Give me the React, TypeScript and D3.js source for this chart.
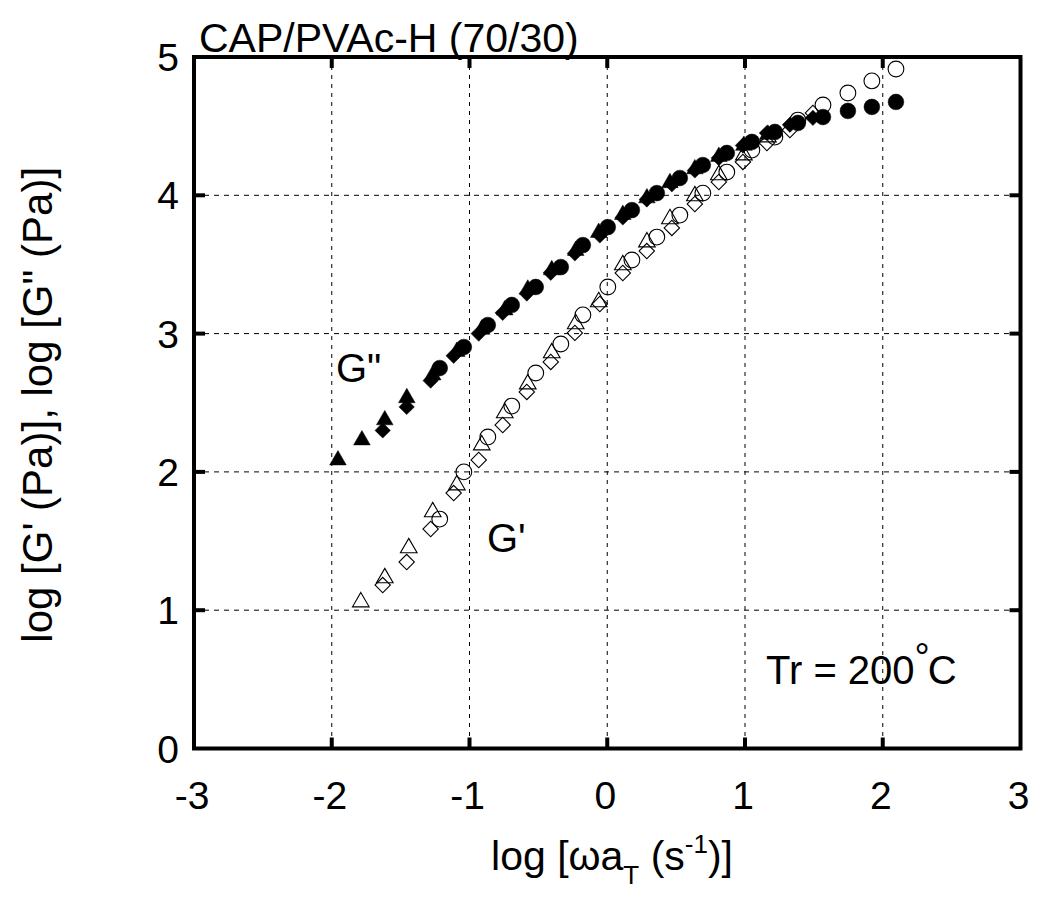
import React from "react";
import * as d3 from "d3";

// G'' (filled) series — log ωaT, log G''
const gppTriangles: [number, number][] = [
  [-1.955, 2.085], [-1.781, 2.23], [-1.615, 2.375], [-1.455, 2.535], [-1.267, 2.70],
  [-1.092, 2.87], [-0.911, 3.03], [-0.744, 3.17], [-0.577, 3.32], [-0.403, 3.46],
  [-0.229, 3.60], [-0.062, 3.73], [0.113, 3.86], [0.288, 3.98], [0.455, 4.09],
  [0.636, 4.19], [0.81, 4.28], [0.992, 4.36], [1.166, 4.44],
];
const gppDiamonds: [number, number][] = [
  [-1.63, 2.30], [-1.456, 2.47], [-1.282, 2.66], [-1.115, 2.84], [-0.933, 3.00],
  [-0.759, 3.15], [-0.584, 3.29], [-0.41, 3.44], [-0.235, 3.58], [-0.054, 3.71],
  [0.113, 3.84], [0.287, 3.97], [0.469, 4.08], [0.636, 4.18], [0.81, 4.27],
  [0.985, 4.36], [1.159, 4.45], [1.326, 4.51], [1.493, 4.56],
];
const gppCircles: [number, number][] = [
  [-1.216, 2.751], [-1.041, 2.903], [-0.867, 3.062], [-0.693, 3.207], [-0.519, 3.337],
  [-0.337, 3.481], [-0.177, 3.64], [0.004, 3.77], [0.179, 3.893], [0.36, 4.016],
  [0.527, 4.125], [0.694, 4.219], [0.868, 4.306], [1.05, 4.386], [1.217, 4.458],
  [1.384, 4.523], [1.566, 4.566], [1.747, 4.61], [1.921, 4.639], [2.096, 4.675],
];

// G' (open) series — log ωaT, log G'
const gpTriangles: [number, number][] = [
  [-1.789, 1.059], [-1.615, 1.233], [-1.441, 1.45], [-1.267, 1.71], [-1.092, 1.905],
  [-0.911, 2.194], [-0.744, 2.426], [-0.577, 2.635], [-0.403, 2.86], [-0.229, 3.07],
  [-0.062, 3.229], [0.113, 3.496], [0.288, 3.662], [0.455, 3.829], [0.636, 3.995],
  [0.81, 4.147], [0.992, 4.291], [1.166, 4.421],
];
const gpDiamonds: [number, number][] = [
  [-1.63, 1.182], [-1.456, 1.348], [-1.282, 1.587], [-1.115, 1.847], [-0.933, 2.086],
  [-0.759, 2.339], [-0.584, 2.578], [-0.41, 2.795], [-0.235, 3.005], [-0.054, 3.214],
  [0.113, 3.438], [0.287, 3.597], [0.469, 3.764], [0.636, 3.937], [0.81, 4.096],
  [0.985, 4.241], [1.159, 4.378], [1.326, 4.472], [1.493, 4.595],
];
const gpCircles: [number, number][] = [
  [-1.216, 1.659], [-1.041, 2.0], [-0.867, 2.252], [-0.693, 2.476], [-0.519, 2.715],
  [-0.337, 2.925], [-0.177, 3.135], [0.004, 3.337], [0.179, 3.532], [0.36, 3.698],
  [0.527, 3.857], [0.694, 4.016], [0.868, 4.168], [1.05, 4.327], [1.217, 4.421],
  [1.384, 4.544], [1.566, 4.653], [1.747, 4.74], [1.921, 4.827], [2.096, 4.913],
];

const xTicks = [-3, -2, -1, 0, 1, 2, 3];
const yTicks = [0, 1, 2, 3, 4, 5];

const W = 1040;
const H = 898;
const left = 194;
const right = 1020.5;
const top = 57;
const bottom = 748.5;

const FONT = "'Liberation Sans', Arial, Helvetica, sans-serif";

export default function App() {
  const x = d3.scaleLinear().domain([-3, 3]).range([left, right]);
  const y = d3.scaleLinear().domain([0, 5]).range([bottom, top]);

  const tri = d3.symbol().type(d3.symbolTriangle).size(120)()!;
  const dia = d3.symbol().type(d3.symbolSquare).size(118)()!;
  const circ = d3.symbol().type(d3.symbolCircle).size(195)()!;

  const drawSeries = (
    data: [number, number][],
    path: string,
    filled: boolean,
    rotate: number,
    key: string
  ) =>
    data.map((d, i) => (
      <path
        key={key + i}
        d={path}
        transform={`translate(${x(d[0])},${y(d[1])}) rotate(${rotate})`}
        fill={filled ? "#000" : "none"}
        stroke="#000"
        strokeWidth={filled ? 0.5 : 1.1}
      />
    ));

  return (
    <svg width={W} height={H} style={{ display: "block", position: "absolute", left: 0, top: 0 }}>
      <rect x={0} y={0} width={W} height={H} fill="#fff" />
      {/* grid */}
      {xTicks.slice(1, -1).map((t) => (
        <line key={"gx" + t} x1={x(t)} x2={x(t)} y1={top} y2={bottom}
          stroke="#000" strokeWidth={1} strokeDasharray="4,5" />
      ))}
      {yTicks.slice(1, -1).map((t) => (
        <line key={"gy" + t} x1={left} x2={right} y1={y(t)} y2={y(t)}
          stroke="#000" strokeWidth={1} strokeDasharray="5,5" />
      ))}
      {/* ticks */}
      {xTicks.slice(1, -1).map((t) => (
        <g key={"tx" + t}>
          <line x1={x(t)} x2={x(t)} y1={bottom} y2={bottom - 11} stroke="#000" strokeWidth={4} />
          <line x1={x(t)} x2={x(t)} y1={top} y2={top + 11} stroke="#000" strokeWidth={4} />
        </g>
      ))}
      {yTicks.slice(1, -1).map((t) => (
        <g key={"ty" + t}>
          <line x1={left} x2={left + 11} y1={y(t)} y2={y(t)} stroke="#000" strokeWidth={4} />
          <line x1={right} x2={right - 11} y1={y(t)} y2={y(t)} stroke="#000" strokeWidth={4} />
        </g>
      ))}
      {/* data */}
      {drawSeries(gppTriangles, tri, true, 0, "a")}
      {drawSeries(gppDiamonds, dia, true, 45, "b")}
      {drawSeries(gppCircles, circ, true, 0, "c")}
      {drawSeries(gpTriangles, tri, false, 0, "d")}
      {drawSeries(gpDiamonds, dia, false, 45, "e")}
      {drawSeries(gpCircles, circ, false, 0, "f")}
      {/* frame */}
      <rect x={left} y={top} width={right - left} height={bottom - top}
        fill="none" stroke="#000" strokeWidth={4} />
      {/* tick labels */}
      {xTicks.map((t) => (
        <text key={"lx" + t} x={x(t) - 2} y={809} textAnchor="middle"
          fontFamily={FONT} fontSize={39}>{t}</text>
      ))}
      {yTicks.map((t) => (
        <text key={"ly" + t} x={179} y={y(t) + 14} textAnchor="end"
          fontFamily={FONT} fontSize={39}>{t}</text>
      ))}
      {/* titles */}
      <text x={199} y={52} fontFamily={FONT} fontSize={41}>CAP/PVAc-H (70/30)</text>
      <text x={612} y={870} textAnchor="middle" fontFamily={FONT} fontSize={41}>
        log [ωa<tspan dy={14} fontSize={26}>T</tspan>
        <tspan dy={-14}> (s</tspan>
        <tspan dy={-17} fontSize={26}>-1</tspan>
        <tspan dy={17}>)]</tspan>
      </text>
      <text transform={`translate(52,${(top + bottom) / 2 + 2}) rotate(-90)`} textAnchor="middle"
        fontFamily={FONT} fontSize={42}>log [G' (Pa)], log [G" (Pa)]</text>
      {/* annotations */}
      <text x={336} y={382} fontFamily={FONT} fontSize={40}>G"</text>
      <text x={487} y={552} fontFamily={FONT} fontSize={40}>G'</text>
      <text x={766} y={684} fontFamily={FONT} fontSize={40}>
        Tr = 200<tspan dy={-14} fontSize={38}>°</tspan><tspan dy={14} dx={-2}>C</tspan>
      </text>
    </svg>
  );
}
